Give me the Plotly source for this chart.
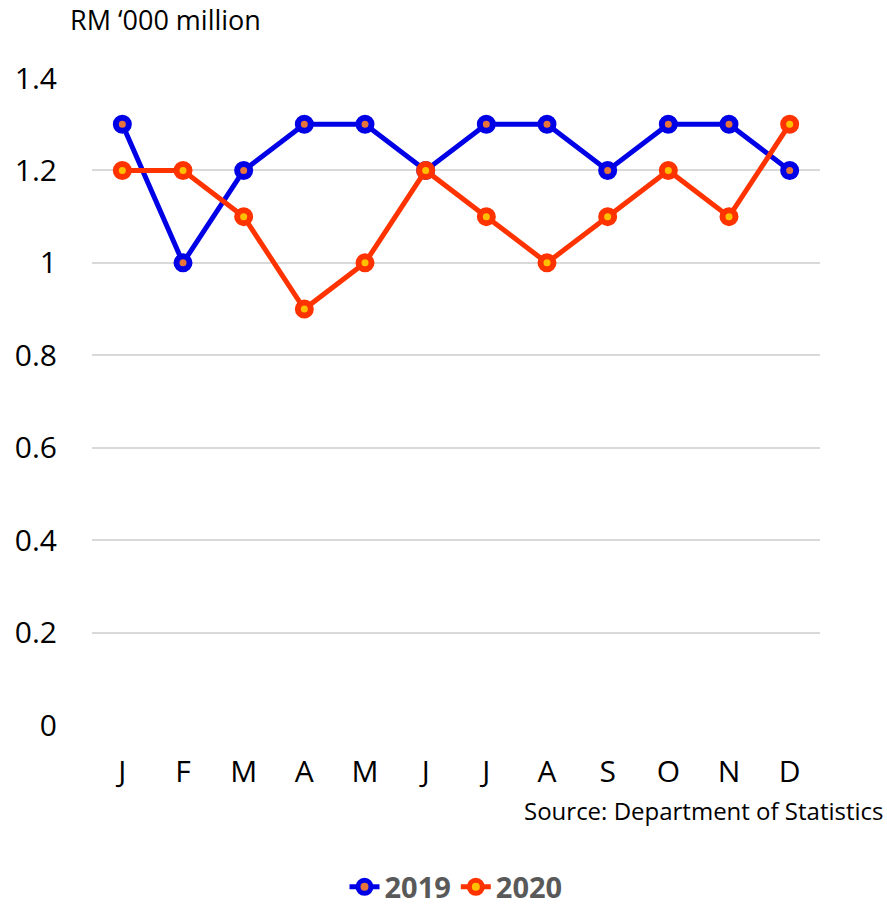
import plotly.graph_objects as go

months = ["J", "F", "M", "A", "M", "J", "J", "A", "S", "O", "N", "D"]
y2019 = [1.3, 1.0, 1.2, 1.3, 1.3, 1.2, 1.3, 1.3, 1.2, 1.3, 1.3, 1.2]
y2020 = [1.2, 1.2, 1.1, 0.9, 1.0, 1.2, 1.1, 1.0, 1.1, 1.2, 1.1, 1.3]
yticks = [0, 0.2, 0.4, 0.6, 0.8, 1, 1.2, 1.4]
ytick_text = ["0", "0.2", "0.4", "0.6", "0.8", "1", "1.2", "1.4"]

x = list(range(len(months)))
FONT = "'Open Sans', sans-serif"

W, H = 887, 910
L, R, T, B = 92, 67, 78, 185
pw = W - L - R
ph = H - T - B


def px(xp):
    return (xp - L) / pw


def py(yp):
    return (H - B - yp) / ph


fig = go.Figure()
fig.add_trace(go.Scatter(
    x=x, y=y2019, name="2019", mode="lines+markers",
    line=dict(color="#0000E6", width=5),
    marker=dict(size=13, color="#E8743B", line=dict(color="#0000E6", width=6)),
))
fig.add_trace(go.Scatter(
    x=x, y=y2020, name="2020", mode="lines+markers",
    line=dict(color="#FF3300", width=5),
    marker=dict(size=13, color="#FFC000", line=dict(color="#FF3300", width=6)),
))

fig.update_layout(
    width=W, height=H,
    margin=dict(l=L, r=R, t=T, b=B),
    plot_bgcolor="white", paper_bgcolor="white",
    font=dict(family=FONT, color="black", size=30),
    showlegend=True,
    legend=dict(orientation="h", x=0.5, xanchor="center",
                y=1 - 887 / H, yanchor="middle", yref="container",
                font=dict(size=29, color="#595959", family=FONT, weight="bold"),
                itemwidth=30, tracegroupgap=0),
    xaxis=dict(
        tickmode="array", tickvals=x, ticktext=months,
        range=[-0.5, 11.5], showgrid=False, zeroline=False, showline=False,
        ticks="", tickfont=dict(size=30), ticklabelstandoff=26, automargin=False,
    ),
    yaxis=dict(
        tickmode="array", tickvals=yticks, ticktext=ytick_text,
        range=[0, 1.4], showgrid=True, gridcolor="#D9D9D9", gridwidth=2,
        zeroline=False, showline=False, ticks="", tickfont=dict(size=30),
        ticklabelstandoff=34, automargin=False,
    ),
    annotations=[
        dict(text="RM \u2018000 million", x=px(68), y=py(20), xref="paper", yref="paper",
             xanchor="left", yanchor="middle", showarrow=False, font=dict(size=27)),
        dict(text="Source: Department of Statistics", x=px(886), y=py(810),
             xref="paper", yref="paper", xanchor="right", yanchor="middle",
             showarrow=False, font=dict(size=24)),
    ],
)

fig.write_html("out.html")
